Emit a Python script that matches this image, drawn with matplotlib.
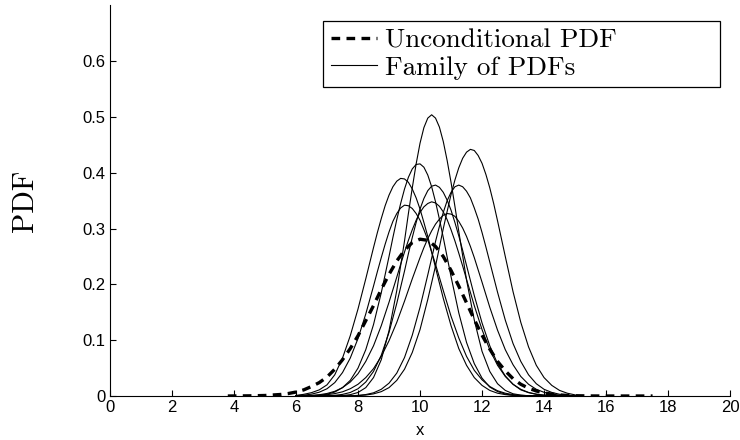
import numpy as np
import matplotlib
matplotlib.use('Agg')
import matplotlib.pyplot as plt

plt.rcParams['font.family'] = ['Liberation Sans', 'DejaVu Sans']

x_grid = np.linspace(6.0, 15.0, 37)

# family of PDFs, values at x_grid
pdf_a = [0, 0, 0, 0, 0.0001, 0.0003, 0.0008, 0.0024, 0.0063, 0.015, 0.033, 0.065, 0.117,
         0.189, 0.278, 0.373, 0.453, 0.498, 0.498, 0.456, 0.383, 0.295, 0.208, 0.136, 0.080,
         0.044, 0.022, 0.010, 0.004, 0.0016, 0.0005, 0.0002, 0, 0, 0, 0, 0]
pdf_b = [0, 0, 0, 0, 0, 0, 0.0001, 0.0003, 0.0007, 0.0017, 0.0038, 0.0078, 0.015, 0.028,
         0.048, 0.078, 0.119, 0.173, 0.233, 0.300, 0.361, 0.409, 0.437, 0.440, 0.417, 0.373,
         0.314, 0.250, 0.187, 0.132, 0.088, 0.055, 0.033, 0.019, 0.010, 0.005, 0.002]
pdf_c = [0.0001, 0.0002, 0.0005, 0.0014, 0.0032, 0.0071, 0.015, 0.028, 0.050, 0.083, 0.128,
         0.185, 0.250, 0.316, 0.371, 0.407, 0.416, 0.396, 0.348, 0.284, 0.214, 0.149, 0.096,
         0.058, 0.032, 0.016, 0.008, 0.0034, 0.0014, 0.0005, 0.0002, 0, 0, 0, 0, 0, 0]
pdf_d = [0.001, 0.003, 0.006, 0.011, 0.020, 0.038, 0.068, 0.108, 0.156, 0.210, 0.266, 0.318,
         0.360, 0.385, 0.389, 0.371, 0.335, 0.286, 0.230, 0.175, 0.126, 0.085, 0.055, 0.033,
         0.019, 0.010, 0.005, 0.0025, 0.001, 0.0005, 0, 0, 0, 0, 0, 0, 0]
pdf_e = [0, 0, 0.0001, 0.0002, 0.0005, 0.0012, 0.0029, 0.0063, 0.013, 0.025, 0.044, 0.073,
         0.114, 0.166, 0.224, 0.284, 0.335, 0.368, 0.378, 0.365, 0.333, 0.287, 0.234, 0.180,
         0.131, 0.090, 0.058, 0.036, 0.021, 0.011, 0.006, 0.003, 0.0013, 0.0005, 0.0002, 0, 0]
pdf_f = [0, 0, 0, 0, 0, 0.0001, 0.0002, 0.0004, 0.0011, 0.0026, 0.0057, 0.012, 0.023, 0.041,
         0.069, 0.109, 0.159, 0.217, 0.277, 0.329, 0.365, 0.378, 0.367, 0.337, 0.293, 0.240,
         0.186, 0.136, 0.094, 0.062, 0.038, 0.022, 0.012, 0.0064, 0.0031, 0.0015, 0.0006]
pdf_g = [0.0006, 0.0015, 0.0033, 0.0068, 0.013, 0.024, 0.042, 0.068, 0.103, 0.147, 0.197,
         0.248, 0.294, 0.327, 0.342, 0.336, 0.315, 0.280, 0.236, 0.189, 0.143, 0.104, 0.071,
         0.046, 0.029, 0.017, 0.0094, 0.005, 0.0025, 0.0012, 0.0005, 0.0002, 0, 0, 0, 0, 0]
pdf_h = [0.0002, 0.0005, 0.0011, 0.0023, 0.0045, 0.0084, 0.015, 0.025, 0.040, 0.062, 0.090,
         0.126, 0.168, 0.213, 0.258, 0.298, 0.329, 0.345, 0.346, 0.330, 0.298, 0.256, 0.209,
         0.162, 0.119, 0.083, 0.055, 0.035, 0.021, 0.012, 0.0064, 0.0033, 0.0016, 0.0007,
         0.0003, 0, 0]
pdf_i = [0.0001, 0.0003, 0.0006, 0.0012, 0.0023, 0.0043, 0.0075, 0.013, 0.021, 0.033, 0.049,
         0.071, 0.099, 0.132, 0.170, 0.210, 0.248, 0.282, 0.308, 0.324, 0.326, 0.313, 0.286,
         0.248, 0.204, 0.159, 0.118, 0.083, 0.056, 0.035, 0.021, 0.012, 0.0066, 0.0034,
         0.0017, 0.0008, 0.0003]

# extra readings around each peak (half-way between grid points)
x_pk_a = [9.625, 9.875, 10.125, 10.375, 10.625, 10.875, 11.125]
pk_a = [0.327, 0.416, 0.481, 0.504, 0.482, 0.422, 0.340]
x_pk_b = [10.875, 11.125, 11.375, 11.625, 11.875, 12.125, 12.375]
pk_b = [0.331, 0.387, 0.426, 0.442, 0.431, 0.397, 0.345]
x_pk_c = [9.125, 9.375, 9.625, 9.875, 10.125, 10.375, 10.625]
pk_c = [0.284, 0.345, 0.392, 0.415, 0.410, 0.375, 0.317]
x_pk_d = [8.625, 8.875, 9.125, 9.375, 9.625, 9.875, 10.125]
pk_d = [0.293, 0.341, 0.375, 0.390, 0.383, 0.355, 0.311]
x_pk_e = [9.625, 9.875, 10.125, 10.375, 10.625, 10.875, 11.125, 11.375]
pk_e = [0.255, 0.311, 0.354, 0.376, 0.374, 0.351, 0.311, 0.261]
x_pk_f = [10.375, 10.625, 10.875, 11.125, 11.375, 11.625, 11.875, 12.125]
pk_f = [0.247, 0.304, 0.350, 0.375, 0.375, 0.355, 0.317, 0.267]
x_pk_g = [8.625, 8.875, 9.125, 9.375, 9.625, 9.875, 10.125, 10.375]
pk_g = [0.223, 0.272, 0.313, 0.337, 0.341, 0.327, 0.298, 0.258]
x_pk_h = [9.375, 9.625, 9.875, 10.125, 10.375, 10.625, 10.875, 11.125, 11.375]
pk_h = [0.236, 0.279, 0.315, 0.339, 0.348, 0.340, 0.316, 0.278, 0.233]
x_pk_i = [9.875, 10.125, 10.375, 10.625, 10.875, 11.125, 11.375, 11.625, 11.875]
pk_i = [0.229, 0.266, 0.296, 0.317, 0.327, 0.322, 0.301, 0.268, 0.226]

# unconditional PDF (dashed), longer support
x_unc = [3.8, 4.5, 5.0, 5.5, 5.75] + list(x_grid) + [15.5, 16.0, 16.5, 17.0, 17.5]
pdf_unc = [0.0, 0.0003, 0.0009, 0.0027, 0.0044,
           0.0071, 0.011, 0.017, 0.024, 0.034, 0.048, 0.065, 0.085, 0.108, 0.135, 0.162,
           0.191, 0.218, 0.242, 0.261, 0.275, 0.281, 0.279, 0.268, 0.250, 0.225, 0.197,
           0.167, 0.137, 0.109, 0.084, 0.062, 0.045, 0.031, 0.021, 0.014, 0.009, 0.0055,
           0.0033, 0.0019, 0.001, 0.0005,
           0.0001, 0, 0, 0, 0]

x_ticks = np.arange(0, 21, 2)
y_ticks = [0, 0.1, 0.2, 0.3, 0.4, 0.5, 0.6]
y_ticklabels = ['0', '0.1', '0.2', '0.3', '0.4', '0.5', '0.6']

fig = plt.figure(figsize=(7.4, 4.4), dpi=100)
ax = fig.add_axes([0.1486, 0.1, 0.838, 0.8877])

family = [(pdf_a, x_pk_a, pk_a), (pdf_b, x_pk_b, pk_b), (pdf_c, x_pk_c, pk_c),
          (pdf_d, x_pk_d, pk_d), (pdf_e, x_pk_e, pk_e), (pdf_f, x_pk_f, pk_f),
          (pdf_g, x_pk_g, pk_g), (pdf_h, x_pk_h, pk_h), (pdf_i, x_pk_i, pk_i)]
for k, (y, xp, yp) in enumerate(family):
    xs = np.concatenate([x_grid, xp])
    ys = np.concatenate([y, yp])
    o = np.argsort(xs)
    ax.plot(xs[o], ys[o], color='black', lw=0.8,
            label='Family of PDFs' if k == 0 else None)

unc, = ax.plot(x_unc, pdf_unc, color='black', lw=2.4, label='Unconditional PDF')
unc.set_dashes((2.6, 1.9))
unc.set_zorder(5)

ax.set_xlim(0, 20)
ax.set_ylim(0, 0.7)
ax.set_xticks(x_ticks)
ax.set_yticks(y_ticks)
ax.set_yticklabels(y_ticklabels)
ax.spines['top'].set_visible(False)
ax.spines['right'].set_visible(False)
ax.tick_params(direction='in', length=4, width=0.8, labelsize=12, pad=3)

ax.set_xlabel('x', fontsize=12)
ax.xaxis.set_label_coords(0.5, -0.068)
ax.set_ylabel('PDF', fontsize=21.5, family='cmr10')
ax.yaxis.set_label_coords(-0.115, 0.5)

h, l = ax.get_legend_handles_labels()
order = [l.index('Unconditional PDF'), l.index('Family of PDFs')]
leg = ax.legend([h[i] for i in order], [l[i] for i in order],
                loc='upper left', bbox_to_anchor=(0.3435, 0.96, 0.6403, 0.0),
                mode='expand', borderaxespad=0, fancybox=False, framealpha=1,
                edgecolor='black', prop={'family': 'cmr10', 'size': 19.5},
                handlelength=1.7, handletextpad=0.3, labelspacing=0.12,
                borderpad=0.28)
leg.get_frame().set_linewidth(0.9)

fig.savefig('out.png', dpi=100)
